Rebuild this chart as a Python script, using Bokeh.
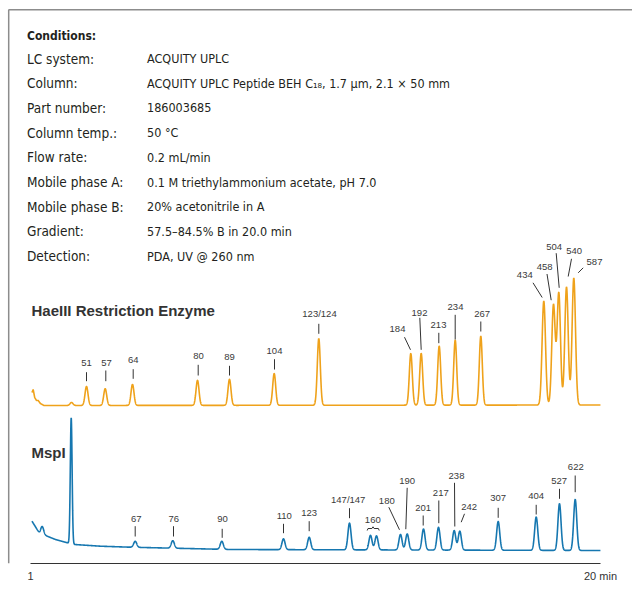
import numpy as np
from bokeh.plotting import figure
from bokeh.models import Range1d, LinearAxis, FixedTicker
from bokeh.core.properties import value
from bokeh.embed import file_html
from bokeh.resources import INLINE

# ---------------- data ----------------
cond_title = "Conditions:"
cond_labels = ["LC system:", "Column:", "Part number:", "Column temp.:", "Flow rate:",
               "Mobile phase A:", "Mobile phase B:", "Gradient:", "Detection:"]
cond_values = ["ACQUITY UPLC",
               "ACQUITY UPLC Peptide BEH C\u2081\u2088, 1.7 \u00b5m, 2.1 \u00d7 50 mm",
               "186003685", "50 \u00b0C", "0.2 mL/min",
               "0.1 M triethylammonium acetate, pH 7.0",
               "20% acetonitrile in A",
               "57.5\u201384.5% B in 20.0 min",
               "PDA, UV @ 260 nm"]

# HaeIII trace: retention time (min), peak height (a.u.), peak width sigma (min)
hae_rt = [2.367, 2.867, 3.49, 4.40, 6.567, 7.633, 9.123, 10.61, 13.677, 14.023,
          14.623, 15.157, 16.01, 18.11, 18.433, 18.61, 18.867, 19.11]
hae_h = [3, 19, 16.7, 21, 25, 26, 31.7, 66.7, 51.7, 51.7,
         59, 65, 69, 104, 100, 112, 118, 127]
hae_w = [0.05] * 13 + [0.057] * 5
# HaeIII baseline (start-up disturbance)
hae_base_t = [1.05, 1.09, 1.14, 1.20, 1.257, 1.33, 1.45, 20.0]
hae_base_v = [13, 16, 8, 5, 5, 2, 0, 0.5]

# MspI trace
msp_rt = [1.39, 2.357, 4.49, 5.743, 7.377, 9.433, 10.29, 11.633, 12.333, 12.533,
          13.333, 13.557, 14.10, 14.60, 15.123, 15.31, 16.59, 17.857, 18.633, 19.157]
msp_h = [8, 126, 6, 7.5, 8, 10.8, 12.4, 26.7, 14.5, 14,
         15.5, 16, 21, 22.7, 19.5, 19, 28.7, 33.3, 46.7, 51]
msp_w = [0.05, 0.03] + [0.052] * 18
msp_base_t = [1.05, 1.31, 1.5, 1.833, 2.277, 2.467, 3.333, 4.333, 7.667, 20.0]
msp_base_v = [29.3, 16.7, 15, 11, 7.3, 6, 4.3, 3.3, 1, 0]

# peak labels
hae_labels = ["51", "57", "64", "80", "89", "104", "123/124", "184", "192", "213",
              "234", "267", "434", "458", "504", "540", "587"]
msp_labels = ["67", "76", "90", "110", "123", "147/147", "160", "180", "190", "201",
              "217", "238", "242", "307", "404", "527", "622"]

x_ticks = [1, 20]
x_tick_labels = {1: "1", 20: "20 min"}

# ---------------- layout (image pixels) ----------------
W, H = 632, 589
hae_lab_pos = [(86, 362.3), (106, 362.3), (132.7, 359.3), (198, 355.3), (229, 356.7),
               (274, 350.7), (319, 313.3), (397, 328.3), (419, 312.3), (438, 324.3),
               (455, 306.7), (481.7, 313.3), (524.3, 274.5), (544.2, 266.5),
               (553.7, 246.7), (573.7, 250.7), (594, 261.7)]
hae_leaders = [(86, 371.7, 86, 380.7), (105.3, 370, 105.3, 380.7), (132.7, 368.7, 132.7, 378.3),
               (197.7, 364.3, 197.7, 375), (229, 365.3, 229, 375), (274, 358.7, 274, 369),
               (318.3, 323.3, 318.3, 333.3), (404, 336.7, 410, 349.3), (419.3, 317.3, 420.7, 349.3),
               (438.3, 332.3, 438.3, 342.7), (454.7, 314.3, 454.7, 339), (480.3, 321, 480.3, 331),
               (532.5, 282.3, 541.7, 297), (546.5, 273.5, 550.7, 299.7),
               (555.7, 252.7, 558.7, 287.3), (571, 258.3, 567.7, 276), (582.7, 267.3, 577.7, 272.3)]
msp_lab_pos = [(135.7, 518.3), (173.3, 518.3), (222, 518.3), (283.7, 515.7), (308.7, 512.7),
               (347.7, 499.3), (372.3, 519), (386.3, 500), (406.7, 480.3), (422.7, 507.7),
               (440.3, 492.3), (456, 475.3), (468.7, 506.7), (497.7, 497.7), (535.7, 495.7),
               (558.7, 480.3), (575.3, 466.7)]
msp_leaders = [(134.7, 525.7, 134.7, 536), (173, 525.7, 173, 536), (221.7, 528.3, 221.7, 537.3),
               (283, 523.3, 283, 532.7), (308.7, 520.7, 308.7, 530.7), (349, 507.7, 349, 517.7),
               (388.3, 506.7, 399, 529.3), (406.7, 487.3, 405.3, 528.7), (422.7, 515, 422.7, 525),
               (438.3, 500, 438.3, 522.7), (454, 482.3, 454.3, 526), (464, 513.3, 460.7, 521.7),
               (497.7, 507.3, 497.7, 517.3), (535.7, 504.3, 535.7, 514), (559, 488.3, 559, 498.3),
               (574.7, 475, 574.7, 491.7)]

PX_PER_MIN = 30.0
X_ONE = 30.0          # image x of t = 1 min
FRAME_BOTTOM = 563
HAE_ZERO, MSP_ZERO = 405, 550   # image y of the two baselines

def t_of(px):
    return 1 + (px - X_ONE) / PX_PER_MIN

p = figure(width=W, height=H, output_backend="svg", toolbar_location=None,
           x_axis_location=None, y_axis_location=None,
           x_range=Range1d(0, W), y_range=Range1d(FRAME_BOTTOM, 0),
           min_border_left=0, min_border_right=0, min_border_top=0,
           min_border_bottom=H - FRAME_BOTTOM,
           outline_line_color=None, background_fill_color="white", border_fill_color="white")
p.grid.visible = False
p.extra_x_ranges = {"min": Range1d(t_of(0), t_of(W))}
p.extra_y_ranges = {"hae": Range1d(HAE_ZERO - FRAME_BOTTOM, HAE_ZERO),
                    "msp": Range1d(MSP_ZERO - FRAME_BOTTOM, MSP_ZERO)}

# frame lines (top / left)
p.segment(x0=[8, 8.2], y0=[9.2, 9.2], x1=[W, 8.2], y1=[9.2, FRAME_BOTTOM],
          line_color="#8c8c8c", line_width=1.5)

# ---- traces ----
t = np.arange(1.05, 20.0001, 0.004)

def trace(base_t, base_v, rt, h, w):
    y = np.interp(t, base_t, base_v)
    for r, a, s in zip(rt, h, w):
        y = y + a * np.exp(-0.5 * ((t - r) / s) ** 2)
    return y

hae_y = trace(hae_base_t, hae_base_v, hae_rt, hae_h, hae_w)
msp_y = trace(msp_base_t, msp_base_v, msp_rt, msp_h, msp_w)
p.line(t, hae_y, x_range_name="min", y_range_name="hae", line_color="#EFA21B", line_width=1.6)
p.line(t, msp_y, x_range_name="min", y_range_name="msp", line_color="#1677B0", line_width=1.6)

# ---- time axis ----
ax = LinearAxis(x_range_name="min", ticker=FixedTicker(ticks=x_ticks),
                major_label_overrides=x_tick_labels)
ax.bounds = (x_ticks[0], x_ticks[-1])
ax.axis_line_color = "#333333"
ax.axis_line_width = 1.2
ax.major_tick_line_color = None
ax.minor_tick_line_color = None
ax.major_tick_out = 0
ax.major_tick_in = 0
ax.major_label_standoff = 6
ax.major_label_text_font = "Liberation Sans"
ax.major_label_text_font_size = "11px"
ax.major_label_text_color = "#333333"
p.add_layout(ax, "below")

# ---- conditions text ----
COND_FONT = value("DejaVu Sans Condensed")
ys = [58 + 24.7 * i for i in range(len(cond_labels))]
p.text(x=[26.5], y=[35.5], text=[cond_title], text_font=COND_FONT, text_font_style="bold",
       text_font_size="12px", text_baseline="middle", text_color="#231f20")
p.text(x=[26.5] * len(cond_labels), y=ys, text=cond_labels, text_font=COND_FONT,
       text_font_size="13.5px", text_baseline="middle", text_color="#231f20")
p.text(x=[146.5] * len(cond_values), y=ys, text=cond_values, text_font=COND_FONT,
       text_font_size="12.5px", text_baseline="middle", text_color="#231f20")

# ---- trace titles ----
p.text(x=[31, 31], y=[310, 452], text=["HaeIII Restriction Enzyme", "MspI"],
       text_font=value("Liberation Sans"), text_font_style="bold", text_font_size="15px",
       text_baseline="middle", text_color="#333333")

# ---- peak labels ----
lab_x = [q[0] for q in hae_lab_pos + msp_lab_pos]
lab_y = [q[1] for q in hae_lab_pos + msp_lab_pos]
p.text(x=lab_x, y=lab_y, text=hae_labels + msp_labels, text_font=value("Liberation Sans"),
       text_font_size="9.5px", text_align="center", text_baseline="middle", text_color="#3a3a3a")
segs = hae_leaders + msp_leaders
p.segment(x0=[s[0] for s in segs], y0=[s[1] for s in segs], x1=[s[2] for s in segs],
          y1=[s[3] for s in segs], line_color="#333333", line_width=1)
# brace under "160"
p.line(x=[366.7, 367.5, 371.4, 372.5, 373.6, 377.9, 378.7],
       y=[530, 528, 528, 526.3, 528, 528, 530], line_color="#333333", line_width=1)

open("out.html", "w").write(file_html(p, INLINE))
